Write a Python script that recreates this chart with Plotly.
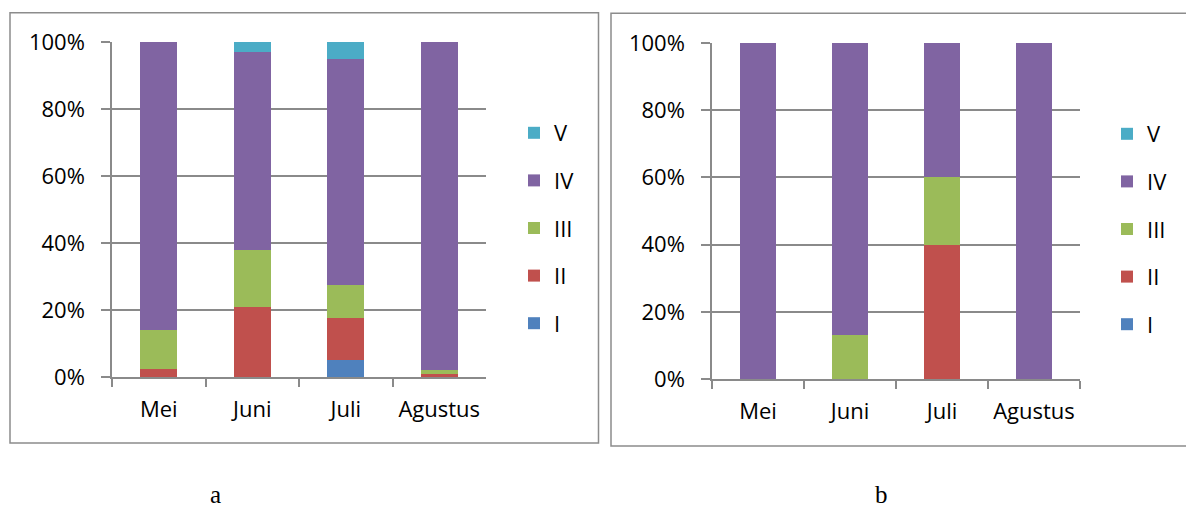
import plotly.graph_objects as go

months = ["Mei", "Juni", "Juli", "Agustus"]
classes = ["I", "II", "III", "IV", "V"]
colors = {"I": "#4F81BD", "II": "#C0504D", "III": "#9BBB59", "IV": "#8064A2", "V": "#4BACC6"}

# Panel a (percent share per month)
a_I = [0, 0, 5, 0]
a_II = [2.5, 21, 12.5, 1]
a_III = [11.5, 17, 10, 1]
a_IV = [86, 59, 67.5, 98]
a_V = [0, 3, 5, 0]

# Panel b
b_I = [0, 0, 0, 0]
b_II = [0, 0, 40, 0]
b_III = [0, 13, 20, 0]
b_IV = [100, 87, 40, 100]
b_V = [0, 0, 0, 0]

panel_a = dict(zip(classes, [a_I, a_II, a_III, a_IV, a_V]))
panel_b = dict(zip(classes, [b_I, b_II, b_III, b_IV, b_V]))

ytick_vals = [0, 20, 40, 60, 80, 100]
ytick_text = ["0%", "20%", "40%", "60%", "80%", "100%"]
panel_labels = ["a", "b"]

W, H = 1186, 511
FONT = "Open Sans"
GRID = "#8a8a8a"

fig = go.Figure()
for i, c in enumerate(classes):
    fig.add_trace(go.Bar(x=months, y=panel_a[c], name=c, marker_color=colors[c],
                         marker_line_width=0, xaxis="x", yaxis="y",
                         legend="legend", legendgroup="a" + c,
                         legendrank=len(classes) - i))
for i, c in enumerate(classes):
    fig.add_trace(go.Bar(x=months, y=panel_b[c], name=c, marker_color=colors[c],
                         marker_line_width=0, xaxis="x2", yaxis="y2",
                         legend="legend2", legendgroup="b" + c,
                         legendrank=len(classes) - i))

def px_x(v):
    return v / W

def px_y(v):
    return 1 - v / H

xcommon = dict(type="category", showgrid=False, showline=True, linecolor=GRID, linewidth=1.5,
               ticks="outside", tickson="boundaries", ticklen=8, tickcolor=GRID, tickwidth=1.5,
               automargin=False, ticklabelstandoff=12,
               tickfont=dict(family=FONT, size=22, color="#000"), fixedrange=True)
ycommon = dict(range=[0, 100], tickvals=ytick_vals, ticktext=ytick_text, showgrid=True,
               gridcolor=GRID, gridwidth=1.5, showline=True, linecolor=GRID, linewidth=1.5,
               ticks="outside", ticklen=9, tickcolor=GRID, tickwidth=1.5, zeroline=False,
               ticklabelstandoff=12, automargin=False,
               tickfont=dict(family=FONT, size=22, color="#000"), fixedrange=True)

legcommon = dict(traceorder="grouped", font=dict(family=FONT, size=22, color="#000"),
                 tracegroupgap=16, bgcolor="rgba(0,0,0,0)", yanchor="middle", xanchor="left",
                 itemclick=False, itemdoubleclick=False)

fig.update_layout(
    width=W, height=H, margin=dict(l=0, r=0, t=0, b=0, autoexpand=False),
    paper_bgcolor="white", plot_bgcolor="white",
    barmode="stack", bargap=0.6, showlegend=True,
    xaxis=dict(domain=[px_x(112), px_x(486)], anchor="y", **xcommon),
    yaxis=dict(domain=[px_y(377), px_y(42)], anchor="x", **ycommon),
    xaxis2=dict(domain=[px_x(712), px_x(1080)], anchor="y2", **xcommon),
    yaxis2=dict(domain=[px_y(379), px_y(43)], anchor="x2", **ycommon),
    legend=dict(x=px_x(514), y=px_y(228), **legcommon),
    legend2=dict(x=px_x(1107), y=px_y(229), **legcommon),
    shapes=[
        dict(type="rect", xref="paper", yref="paper", x0=px_x(10), x1=px_x(598.5),
             y0=px_y(443), y1=px_y(12.7), line=dict(color="#8c8c8c", width=1.5)),
        dict(type="rect", xref="paper", yref="paper", x0=px_x(611), x1=px_x(1200),
             y0=px_y(446), y1=px_y(13.3), line=dict(color="#8c8c8c", width=1.5)),
    ],
    annotations=[
        dict(text=panel_labels[0], xref="paper", yref="paper", x=px_x(215), y=px_y(510),
             xanchor="center", yanchor="bottom", showarrow=False,
             font=dict(family="Liberation Serif", size=25, color="#000")),
        dict(text=panel_labels[1], xref="paper", yref="paper", x=px_x(881), y=px_y(510),
             xanchor="center", yanchor="bottom", showarrow=False,
             font=dict(family="Liberation Serif", size=25, color="#000")),
    ],
)

fig.write_html("out.html")
